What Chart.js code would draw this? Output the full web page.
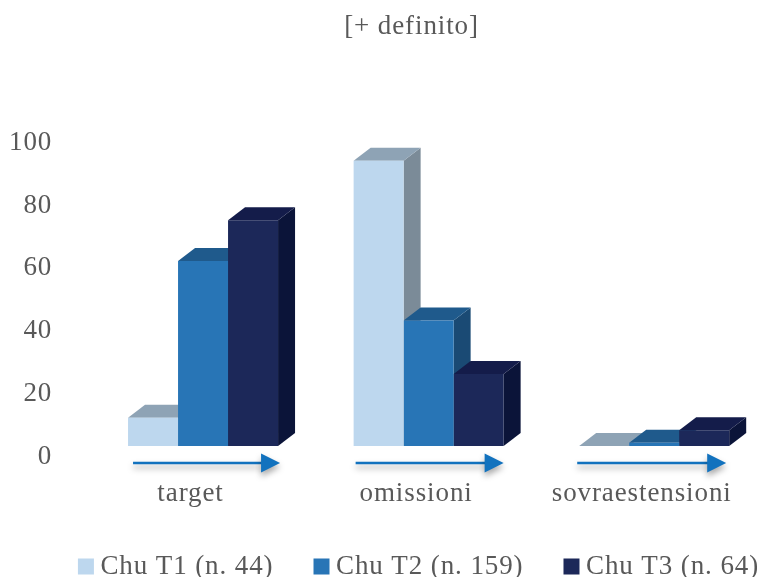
<!DOCTYPE html>
<html>
<head>
<meta charset="utf-8">
<title>[+ definito]</title>
<script src="https://cdn.jsdelivr.net/npm/chart.js@4/dist/chart.umd.min.js"></script>
<style>
  html, body { margin: 0; padding: 0; background: #fff; overflow: hidden; }
  /* the plot runs a little past the right edge of the frame */
  #wrap { position: relative; width: 757px; height: 577px; overflow: hidden; }
</style>
</head>
<body>
<div id="wrap"><canvas id="chart" width="767" height="577"></canvas></div>
<script>
const categories = ["target", "omissioni", "sovraestensioni"];
const seriesNames = ["Chu T1 (n. 44)", "Chu T2 (n. 159)", "Chu T3 (n. 64)"];
const chuT1 = [9, 91, 0];
const chuT2 = [59, 40, 1];
const chuT3 = [72, 23, 5];
const yTicks = [0, 20, 40, 60, 80, 100];

const frontColors = ["#bdd7ee", "#2875b6", "#1c2859"];
const topColors = ["#8ea3b5", "#1f5a8c", "#141c4a"];
const sideColors = ["#7b8b98", "#1a4a74", "#0b1439"];
const textColor = "#595959";
const fontFamily = '"Liberation Serif", serif';

// Depth of the fake 3D extrusion
const depthX = 17;
const depthY = 13;

// Arrow ends around each group centre, in pixels
const arrowSpans = [[-70, 77], [-73, 75], [-77, 72]];

function poly(ctx, color, pts) {
  ctx.fillStyle = color;
  ctx.beginPath();
  pts.forEach((p, i) => (i ? ctx.lineTo(p[0], p[1]) : ctx.moveTo(p[0], p[1])));
  ctx.closePath();
  ctx.fill();
}

// Tops and sides go under the bar fronts, one series after the other
const extrude = {
  id: "extrude",
  beforeDatasetsDraw(chart) {
    const ctx = chart.ctx;
    chart.data.datasets.forEach((ds, i) => {
      chart.getDatasetMeta(i).data.forEach((bar) => {
        const left = bar.x - bar.width / 2;
        const right = bar.x + bar.width / 2;
        poly(ctx, sideColors[i], [
          [right, bar.y],
          [right + depthX, bar.y - depthY],
          [right + depthX, bar.base - depthY],
          [right, bar.base],
        ]);
        poly(ctx, topColors[i], [
          [left, bar.y],
          [left + depthX, bar.y - depthY],
          [right + depthX, bar.y - depthY],
          [right, bar.y],
        ]);
      });
    });
  },
};

// Blue arrow under each group of bars
const groupArrows = {
  id: "groupArrows",
  afterDraw(chart) {
    const ctx = chart.ctx;
    const y = chart.scales.y.getPixelForValue(0) + 17;
    categories.forEach((c, i) => {
      const mid = chart.scales.x.getPixelForValue(i);
      const start = mid + arrowSpans[i][0];
      const tip = mid + arrowSpans[i][1];
      ctx.save();
      ctx.shadowColor = "rgba(0,0,0,0.35)";
      ctx.shadowBlur = 6;
      ctx.shadowOffsetY = 4;
      ctx.strokeStyle = "#1272be";
      ctx.lineWidth = 2.5;
      ctx.beginPath();
      ctx.moveTo(start, y);
      ctx.lineTo(tip - 18, y);
      ctx.stroke();
      poly(ctx, "#1272be", [
        [tip - 19, y - 9.5],
        [tip, y],
        [tip - 19, y + 9.5],
      ]);
      ctx.restore();
    });
  },
};

// Slightly wider tracking on all the serif text, and title/legend nudged into place
const typeAndPlacement = {
  id: "typeAndPlacement",
  beforeLayout(chart) {
    chart.ctx.letterSpacing = "0.9px";
  },
  afterLayout(chart) {
    chart.titleBlock.left += 78;
    chart.titleBlock.right += 78;
    chart.legend.left += 88.5;
    chart.legend.right += 88.5;
    chart.legend.top -= 10;
    chart.legend.bottom -= 10;
  },
  beforeDraw(chart) {
    chart.ctx.letterSpacing = "0.9px";
  },
};

const seriesValues = [chuT1, chuT2, chuT3];

new Chart(document.getElementById("chart"), {
  type: "bar",
  data: {
    labels: categories,
    datasets: seriesNames.map((name, i) => ({
      label: name,
      data: seriesValues[i],
      backgroundColor: frontColors[i],
      borderWidth: 0,
      categoryPercentage: 0.665,
      barPercentage: 1,
    })),
  },
  options: {
    responsive: false,
    animation: false,
    // negative left leaves the wide legend room on one row
    layout: { padding: { left: -100, right: 0, top: 0, bottom: -23 } },
    scales: {
      x: {
        grid: { display: false, drawTicks: false },
        border: { display: false },
        afterFit(scale) {
          scale.height = 70;
          // the large tick padding would otherwise squeeze the groups inwards
          scale.paddingLeft = 0;
          scale.paddingRight = 0;
        },
        ticks: {
          color: textColor,
          font: { family: fontFamily, size: 27 },
          padding: 31.5,
          labelOffset: -12.5,
          maxRotation: 0,
          autoSkip: false,
        },
      },
      y: {
        min: 0,
        max: 100,
        afterBuildTicks(scale) {
          scale.ticks = yTicks.map((v) => ({ value: v }));
        },
        afterFit(scale) {
          scale.width = 190.25;
        },
        grid: { display: false, drawTicks: false },
        border: { display: false },
        ticks: {
          color: textColor,
          font: { family: fontFamily, size: 27 },
          padding: 38,
          labelOffset: 10.5,
        },
      },
    },
    plugins: {
      title: {
        display: true,
        text: "[+ definito]",
        color: textColor,
        font: { family: fontFamily, size: 27, weight: "normal" },
        padding: { top: 11, bottom: 89.1 },
      },
      legend: {
        position: "bottom",
        labels: {
          color: textColor,
          font: { family: fontFamily, size: 27 },
          boxWidth: 2,
          boxHeight: 2,
          padding: 47,
          generateLabels(chart) {
            // a thick stroke round a tiny box keeps the text close to the square
            return chart.data.datasets.map((ds, i) => ({
              text: ds.label,
              fillStyle: frontColors[i],
              strokeStyle: frontColors[i],
              lineWidth: 14,
              fontColor: textColor,
              datasetIndex: i,
            }));
          },
        },
      },
      tooltip: { enabled: false },
    },
  },
  plugins: [extrude, groupArrows, typeAndPlacement],
});
</script>
</body>
</html>
